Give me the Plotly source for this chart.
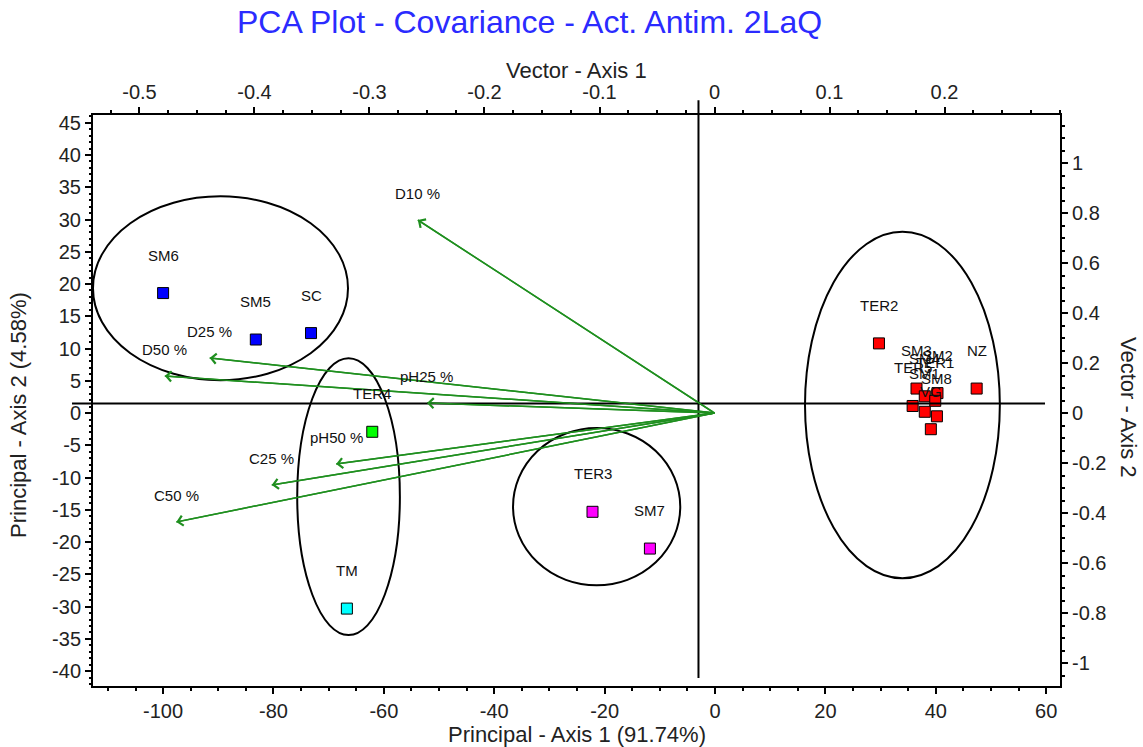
import plotly.graph_objects as go

# ---- sample scores (principal axes) ----
sample_names = ["SM6", "SM5", "SC", "TER4", "TM", "TER3", "SM7", "TER2", "NZ",
                "SM3", "SM4", "SM2", "TER1", "TER5", "SM1", "SM8", "VG"]
pc1_scores = [-100.0, -83.2, -73.2, -62.1, -66.7, -22.2, -11.8, 29.7, 47.4,
              36.5, 38.0, 40.3, 39.9, 35.8, 38.0, 40.2, 39.1]
pc2_scores = [18.6, 11.4, 12.4, -2.9, -30.3, -15.3, -21.0, 10.8, 3.8,
              3.8, 2.6, 3.1, 1.9, 1.1, 0.2, -0.5, -2.5]
sample_colors = ["#0000ff", "#0000ff", "#0000ff", "#00ff00", "#00ffff",
                 "#ff00ff", "#ff00ff", "#ff0000", "#ff0000",
                 "#ff0000", "#ff0000", "#ff0000", "#ff0000", "#ff0000",
                 "#ff0000", "#ff0000", "#ff0000"]

# ---- variable loadings (vector axes) ----
variable_names = ["D10 %", "D25 %", "D50 %", "pH25 %", "pH50 %", "C25 %", "C50 %"]
vec1_loadings = [-0.258, -0.439, -0.478, -0.250, -0.329, -0.385, -0.468]
vec2_loadings = [0.772, 0.220, 0.148, 0.040, -0.204, -0.288, -0.436]

# ---- group ellipses (principal axes): x0, x1, y0, y1 ----
group_ellipses = [
    (-112.7, -66.5, 5.1, 33.6),
    (-75.7, -57.1, -34.4, 8.5),
    (-36.6, -6.3, -26.7, -2.3),
    (16.3, 51.6, -25.6, 28.1),
]

# ---- axes ----
x_range = [-112.7, 62.5]
y_range = [-42.3, 46.2]
x2_range = [-0.5404, 0.3004]
y2_range = [-1.092, 1.192]
cross_x = -3.0
cross_y = 1.5

x_ticks = [-100, -80, -60, -40, -20, 0, 20, 40, 60]
y_ticks = [-40, -35, -30, -25, -20, -15, -10, -5, 0, 5, 10, 15, 20, 25, 30, 35, 40, 45]
x2_ticks = [-0.5, -0.4, -0.3, -0.2, -0.1, 0.0, 0.1, 0.2]
y2_ticks = [-1.0, -0.8, -0.6, -0.4, -0.2, 0.0, 0.2, 0.4, 0.6, 0.8, 1.0]


def tick_text(v):
    s = f"{v:g}"
    return "0" if s in ("0", "-0") else s


FONT = "Liberation Sans, Arial, sans-serif"
GREEN = "#1f8f1f"

fig = go.Figure()

# loading vectors
vx, vy = [], []
for a, b in zip(vec1_loadings, vec2_loadings):
    vx += [0, a, None]
    vy += [0, b, None]
fig.add_trace(go.Scatter(x=vx, y=vy, xaxis="x2", yaxis="y2", mode="lines",
                         line=dict(color=GREEN, width=1.5), hoverinfo="skip",
                         showlegend=False))

# sample points
fig.add_trace(go.Scatter(x=pc1_scores, y=pc2_scores, mode="markers",
                         marker=dict(symbol="square", size=11, color=sample_colors,
                                     line=dict(color="black", width=1)),
                         text=sample_names, showlegend=False))

annotations = []
for a, b in zip(vec1_loadings, vec2_loadings):
    annotations.append(dict(x=a, y=b, xref="x2", yref="y2", ax=0, ay=0,
                            axref="x2", ayref="y2", text="", showarrow=True,
                            arrowhead=4, arrowsize=1.3, arrowwidth=1.5,
                            arrowcolor=GREEN))
for name, a, b in zip(variable_names, vec1_loadings, vec2_loadings):
    annotations.append(dict(x=a, y=b, xref="x2", yref="y2", text=name,
                            showarrow=False, yshift=27,
                            font=dict(family=FONT, size=15, color="#111")))
for name, a, b in zip(sample_names, pc1_scores, pc2_scores):
    annotations.append(dict(x=a, y=b, xref="x", yref="y", text=name,
                            showarrow=False, yshift=38,
                            font=dict(family=FONT, size=15, color="#111")))

# titles
annotations += [
    dict(text="PCA Plot - Covariance - Act. Antim. 2LaQ", xref="paper", yref="paper",
         x=0.4519, y=1.1629, showarrow=False, xanchor="center", yanchor="middle",
         font=dict(family=FONT, size=32, color="#2b2bff")),
    dict(text="Vector - Axis 1", xref="paper", yref="paper", x=0.5, y=1.0788,
         showarrow=False, yanchor="middle", font=dict(family=FONT, size=22, color="#222")),
    dict(text="Principal - Axis 1 (91.74%)", xref="paper", yref="paper", x=0.5, y=-0.0858,
         showarrow=False, yanchor="middle", font=dict(family=FONT, size=22, color="#222")),
    dict(text="Principal - Axis 2 (4.58%)", xref="paper", yref="paper", x=-0.0776, y=0.4746,
         showarrow=False, textangle=-90, xanchor="center", yanchor="middle",
         font=dict(family=FONT, size=22, color="#222")),
    dict(text="Vector - Axis 2", xref="paper", yref="paper", x=1.0703, y=0.487,
         showarrow=False, textangle=90, xanchor="center", yanchor="middle",
         font=dict(family=FONT, size=22, color="#222")),
]

shapes = []
for x0, x1, y0, y1 in group_ellipses:
    shapes.append(dict(type="circle", xref="x", yref="y", x0=x0, x1=x1, y0=y0, y1=y1,
                       line=dict(color="black", width=2), layer="above"))

# crosshair lines through the plot
fx = (cross_x - x_range[0]) / (x_range[1] - x_range[0])
fy = (cross_y - y_range[0]) / (y_range[1] - y_range[0])
shapes.append(dict(type="line", xref="x domain", yref="y domain", x0=fx, x1=fx,
                   y0=0.014, y1=1.026, line=dict(color="black", width=2)))
shapes.append(dict(type="line", xref="x domain", yref="y domain", x0=-0.0217, x1=0.9845,
                   y0=fy, y1=fy, line=dict(color="black", width=2)))

tickfont = dict(family=FONT, size=20, color="#222")
common = dict(showgrid=False, zeroline=False, showline=True, linecolor="black",
              linewidth=2, ticks="outside", tickcolor="black", tickwidth=1.5,
              ticklen=6, tickfont=tickfont, tickmode="array")

fig.update_layout(
    width=1143, height=747,
    margin=dict(l=93, r=83, t=115, b=61),
    paper_bgcolor="white", plot_bgcolor="white",
    showlegend=False,
    xaxis=dict(range=x_range, tickvals=x_ticks, ticktext=[tick_text(v) for v in x_ticks],
               minor=dict(tickmode="linear", tick0=0, dtick=5, ticks="outside",
                          ticklen=3, tickcolor="black"), **common),
    yaxis=dict(range=y_range, tickvals=y_ticks, ticktext=[tick_text(v) for v in y_ticks],
               minor=dict(tickmode="linear", tick0=0, dtick=1, ticks="outside",
                          ticklen=2, tickcolor="black"), **common),
    xaxis2=dict(range=x2_range, overlaying="x", side="top", anchor="y",
                tickvals=x2_ticks, ticktext=[tick_text(v) for v in x2_ticks],
                minor=dict(tickmode="linear", tick0=0, dtick=0.025, ticks="outside",
                           ticklen=3, tickcolor="black"), **common),
    yaxis2=dict(range=y2_range, overlaying="y", side="right", anchor="x",
                tickvals=y2_ticks, ticktext=[tick_text(v) for v in y2_ticks],
                minor=dict(tickmode="linear", tick0=0, dtick=0.05, ticks="outside",
                           ticklen=3, tickcolor="black"), **common),
    annotations=annotations,
    shapes=shapes,
)

fig.write_html("out.html")
